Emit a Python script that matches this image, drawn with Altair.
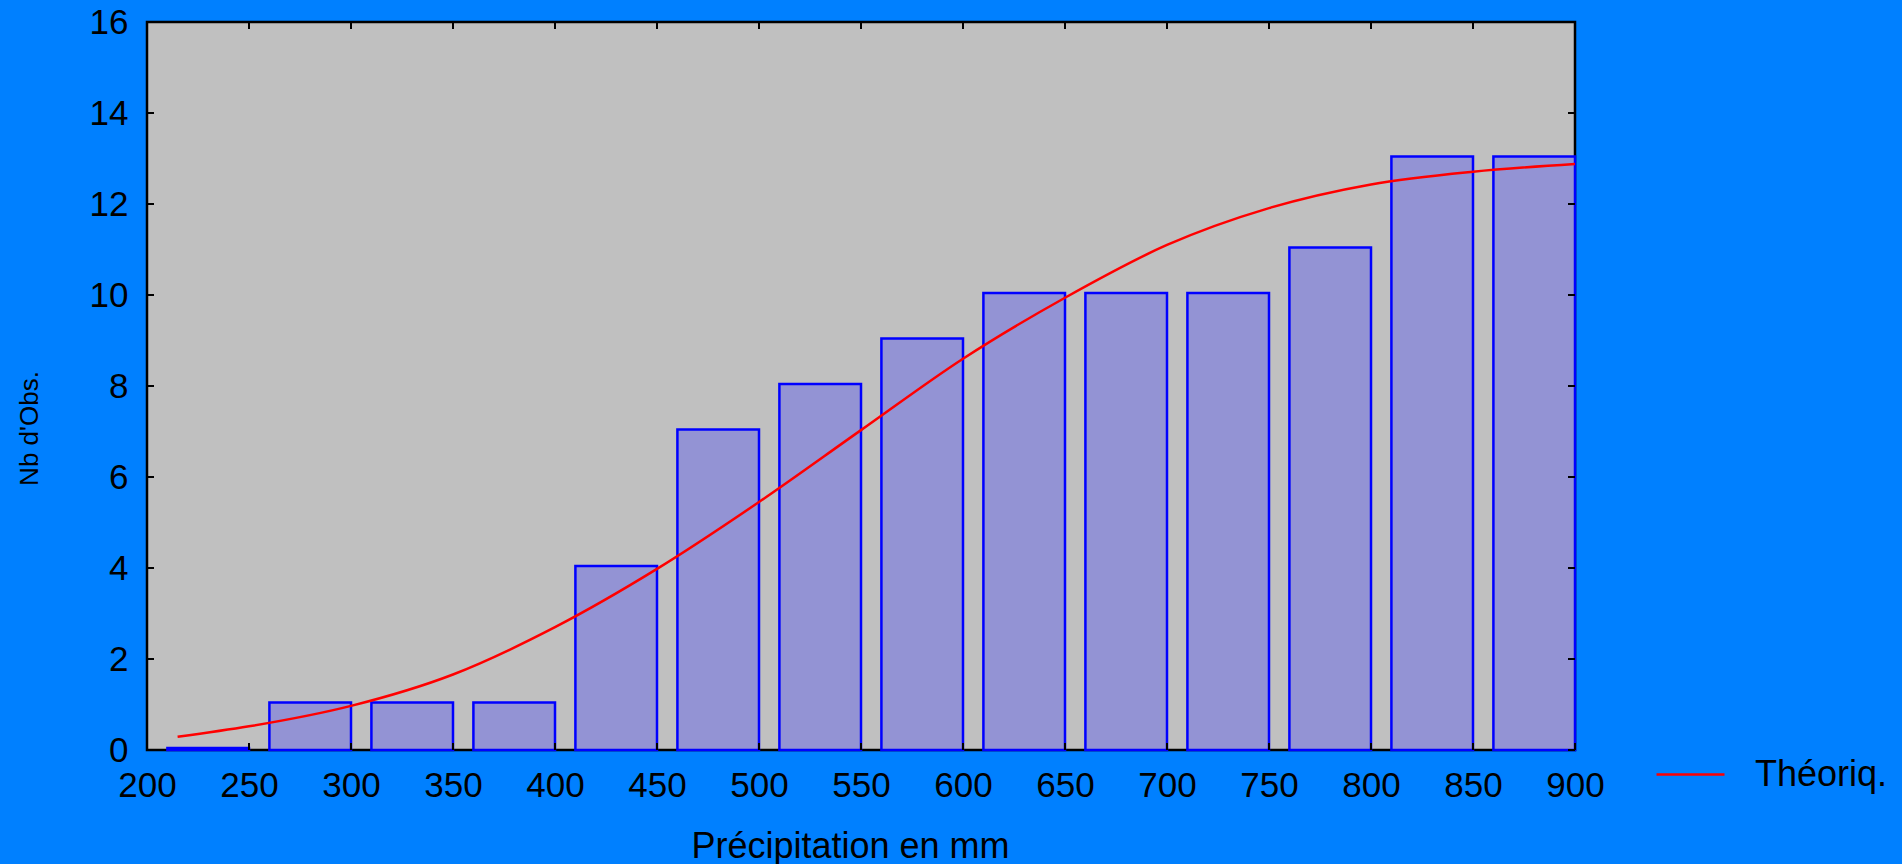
import altair as alt
import pandas as pd
import jinja2

# ---- data ----
bin_start = [200, 250, 300, 350, 400, 450, 500, 550, 600, 650, 700, 750, 800, 850]
bin_end = [250, 300, 350, 400, 450, 500, 550, 600, 650, 700, 750, 800, 850, 900]
counts = [0, 1, 1, 1, 4, 7, 8, 9, 10, 10, 10, 11, 13, 13]

curve_mm = [215, 250, 300, 350, 400, 450, 500, 550, 600, 650, 700, 750, 800, 850, 900]
curve_n = [0.29, 0.52, 0.97, 1.66, 2.70, 3.98, 5.45, 7.03, 8.60, 9.94, 11.10, 11.91, 12.43, 12.71, 12.88]
series_name = "Théoriq."

x_ticks = [200, 250, 300, 350, 400, 450, 500, 550, 600, 650, 700, 750, 800, 850, 900]
y_ticks = [0, 2, 4, 6, 8, 10, 12, 14, 16]

# ---- layout / style ----
W, H = 1428, 728
GAP = 10          # empty part at the left of each 50 mm class
TICK = 7
FONT = "Liberation Sans"

xs = alt.Scale(domain=[200, 900], nice=False, zero=False)
ys = alt.Scale(domain=[0, 16], nice=False, zero=True)

x_axis = alt.Axis(values=x_ticks, title="Précipitation en mm", labelFont=FONT, labelFontSize=35,
                  labelColor="black", labelPadding=18, labelFlush=False, labelOverlap=False,
                  domain=False, ticks=False, tickSize=0, grid=False,
                  titleFont=FONT, titleFontSize=36, titleFontWeight="normal", titleColor="black",
                  titleX=703, titleY=107, titleBaseline="alphabetic", titleAnchor="start", titleAlign="center")
y_axis = alt.Axis(values=y_ticks, title="Nb d'Obs.", labelFont=FONT, labelFontSize=35,
                  labelColor="black", labelPadding=19, labelFlush=False, labelOverlap=False,
                  domain=False, ticks=False, tickSize=0, grid=False,
                  titleFont=FONT, titleFontSize=26, titleFontWeight="normal", titleColor="black",
                  titleX=-110, titleY=406, titleBaseline="alphabetic", titleAngle=270, titleAlign="center")

bars_df = pd.DataFrame({"start": bin_start, "end": bin_end, "count": counts})
line_df = pd.DataFrame({"mm": curve_mm, "n": curve_n, "serie": [series_name] * len(curve_mm)})
yt_df = pd.DataFrame({"v": y_ticks})
xt_df = pd.DataFrame({"v": x_ticks})

bars = alt.Chart(bars_df).transform_calculate(
    left=f"datum.start + {GAP}"
).mark_rect(fill="#9393D4", stroke="#0000FF", strokeWidth=2.5, yOffset=-2).encode(
    x=alt.X("left:Q", scale=xs, axis=x_axis),
    x2="end:Q",
    y=alt.Y("count:Q", scale=ys, axis=y_axis),
    y2=alt.datum(0),
)

line = alt.Chart(line_df).mark_line(strokeWidth=2.5, interpolate="monotone").encode(
    x=alt.X("mm:Q", scale=xs, axis=x_axis),
    y=alt.Y("n:Q", scale=ys, axis=y_axis),
    color=alt.Color("serie:N", scale=alt.Scale(domain=[series_name], range=["#FF0000"]),
                    legend=alt.Legend(title=None, orient="none", legendX=1508, legendY=717,
                                      symbolType="stroke", symbolSize=4624, symbolStrokeWidth=2.5,
                                      labelFont=FONT, labelFontSize=36, labelColor="black",
                                      labelOffset=29, padding=0)),
)

left_ticks = alt.Chart(yt_df).mark_rule(color="black", strokeWidth=2).encode(
    y=alt.Y("v:Q", scale=ys, axis=y_axis), x=alt.value(0), x2=alt.value(TICK))
right_ticks = alt.Chart(yt_df).mark_rule(color="black", strokeWidth=2).encode(
    y=alt.Y("v:Q", scale=ys, axis=y_axis), x=alt.value(W - TICK), x2=alt.value(W))
bottom_ticks = alt.Chart(xt_df).mark_rule(color="black", strokeWidth=2).encode(
    x=alt.X("v:Q", scale=xs, axis=x_axis), y=alt.value(H - TICK), y2=alt.value(H))
top_ticks = alt.Chart(xt_df).mark_rule(color="black", strokeWidth=2).encode(
    x=alt.X("v:Q", scale=xs, axis=x_axis), y=alt.value(0), y2=alt.value(TICK))

chart = alt.layer(bars, line, left_ticks, right_ticks, bottom_ticks, top_ticks).properties(
    width=W, height=H,
    padding={"left": 147, "top": 22, "right": 1902 - 147 - W, "bottom": 864 - 22 - H},
    autosize=alt.AutoSizeParams(type="none"),
    background="#0080FF",
).configure_view(fill="#C0C0C0", stroke="black", strokeWidth=2.5)

TEMPLATE = jinja2.Template("""<!DOCTYPE html>
<html>
<head>
<meta charset="utf-8">
<style>html, body { margin: 0; padding: 0; background: #0080FF; overflow: hidden; }</style>
<script type="text/javascript" src="{{ base_url }}/vega@{{ vega_version }}"></script>
<script type="text/javascript" src="{{ base_url }}/vega-lite@{{ vegalite_version }}"></script>
<script type="text/javascript" src="{{ base_url }}/vega-embed@{{ vegaembed_version }}"></script>
</head>
<body>
<div id="{{ output_div }}"></div>
<script type="text/javascript">
  vegaEmbed("#{{ output_div }}", {{ spec }}, {{ embed_options }}).catch(console.error);
</script>
</body>
</html>
""")

chart.save("out.html", embed_options={"renderer": "svg", "actions": False}, template=TEMPLATE)
